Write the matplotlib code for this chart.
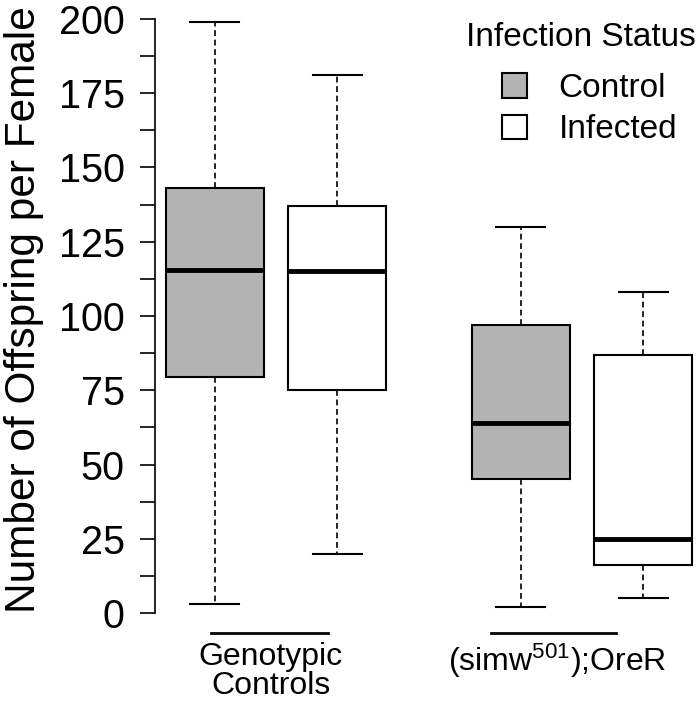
import numpy as np
import matplotlib
matplotlib.use("Agg")
import matplotlib.pyplot as plt
from matplotlib.patches import Patch
import matplotlib.transforms as mtransforms

plt.rcParams["font.family"] = ["Liberation Sans", "DejaVu Sans"]
plt.rcParams["mathtext.fontset"] = "custom"
plt.rcParams["mathtext.rm"] = "Liberation Sans"
plt.rcParams["mathtext.default"] = "regular"

# box summary values (Control, Infected) x (Genotypic Controls, (simw501);OreR)
status = ["Control", "Infected", "Control", "Infected"]
positions = [1, 2, 3.5, 4.5]
whislo = [3, 20, 2, 5]
q1 = [79.5, 75, 45, 16]
med = [115.5, 115, 64, 25]
q3 = [143, 137, 97, 87]
whishi = [199, 181, 130, 108]

group_labels = ["Genotypic\nControls", r"(simw$^{501}$);OreR"]
group_label_x = [1.46, 3.80]
group_line_x = [(0.97, 1.93), (3.26, 4.28)]

colors = {"Control": "#b3b3b3", "Infected": "white"}

stats = []
for i in range(len(positions)):
    stats.append({
        "whislo": whislo[i], "q1": q1[i], "med": med[i],
        "q3": q3[i], "whishi": whishi[i], "fliers": [],
    })

fig = plt.figure(figsize=(7, 7.08), dpi=100)
ax = fig.add_axes([155 / 700, 95 / 708, 545 / 700, 594 / 708])

bp = ax.bxp(
    stats,
    positions=positions,
    widths=0.8,
    capwidths=0.4,
    patch_artist=True,
    showfliers=False,
    boxprops=dict(edgecolor="black", linewidth=1.5),
    whiskerprops=dict(color="black", linewidth=1.2, linestyle=(0, (3.5, 2.2))),
    capprops=dict(color="black", linewidth=1.5),
    medianprops=dict(color="black", linewidth=3.5, solid_capstyle="butt"),
)
for box, s in zip(bp["boxes"], status):
    box.set_facecolor(colors[s])
for artist in bp["whiskers"] + bp["caps"]:
    artist.set_clip_on(False)

ax.set_xlim(0.514, 4.963)
ax.set_ylim(0, 200)

ax.set_yticks(np.arange(0, 201, 12.5))
ax.set_yticklabels([f"{int(v)}" if v % 25 == 0 else "" for v in np.arange(0, 201, 12.5)])
ax.tick_params(axis="y", labelsize=28.5, length=10.8, width=1.2, pad=11)
ax.set_xticks([])

for side in ["top", "right", "bottom"]:
    ax.spines[side].set_visible(False)
ax.spines["left"].set_linewidth(1.2)
ax.spines["left"].set_bounds(0, 200)

ax.set_ylabel("Number of Offspring per Female", fontsize=30.5)
ax.yaxis.set_label_coords(-0.204, 0.51)

# group labels with lines above
trans = mtransforms.blended_transform_factory(ax.transData, ax.transAxes)
for (x0, x1), lx, lab in zip(group_line_x, group_label_x, group_labels):
    ax.plot([x0, x1], [-20 / 594, -20 / 594], color="black", linewidth=2,
            transform=trans, clip_on=False)
    ax.text(lx, -29 / 594, lab, transform=trans, ha="center", va="top",
            fontsize=23, linespacing=0.95)

# legend: title placed on its own, entries below
fig.text(581 / 700, 1 - 38 / 708, "Infection Status", ha="center", va="center",
         fontsize=24)
handles = [Patch(facecolor=colors["Control"], edgecolor="black", linewidth=1.5),
           Patch(facecolor=colors["Infected"], edgecolor="black", linewidth=1.5)]
ax.legend(handles, ["Control", "Infected"],
          loc="upper left", bbox_to_anchor=(502 / 700, 1 - 73 / 708),
          bbox_transform=fig.transFigure, frameon=False, fontsize=24,
          handlelength=0.75, handleheight=0.75,
          handletextpad=0.95, labelspacing=0.31, borderpad=0, borderaxespad=0)

fig.savefig("out.png", dpi=100)
